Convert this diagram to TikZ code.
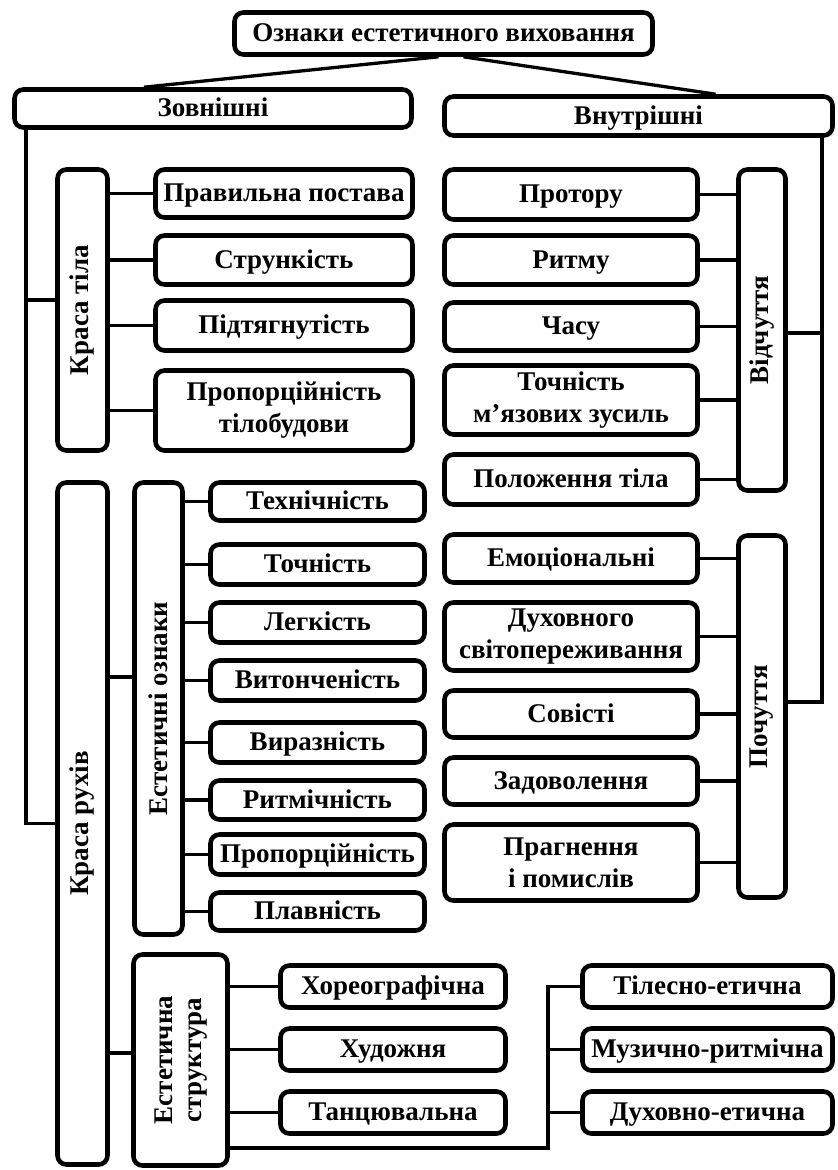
\documentclass[tikz,border=0pt]{standalone}
\usepackage{fontspec}
\setmainfont{Liberation Serif}
\usetikzlibrary{calc}
\begin{document}
\begin{tikzpicture}[x=1pt,y=-1pt,
  bx/.style={draw, line width=4.6pt, rounded corners=9pt, align=center,
    inner sep=0pt, font=\fontsize{27}{32}\selectfont\bfseries},
  one/.style={bx, text height=18pt, text depth=2pt},
  ln/.style={line width=3.3pt}]
\useasboundingbox (0,0) rectangle (838,1170);

% top level
\node[one, minimum width=418pt, minimum height=42pt] (title) at (443.5,33.5) {Ознаки естетичного виховання};
\node[one, minimum width=397pt, minimum height=38pt] (zovn) at (213,108.5) {Зовнішні};
\node[one, minimum width=388pt, minimum height=39pt] (vnut) at (638.5,116) {Внутрішні};

% beauty of the body
\node[bx, minimum width=50pt, minimum height=281pt] (kt) at (82.5,310) {\rotatebox{90}{Краса тіла}};
\node[one, minimum width=257pt, minimum height=48pt] (pp)  at (284,193.5) {Правильна постава};
\node[one, minimum width=257pt, minimum height=49pt] (str) at (284,260) {Стрункість};
\node[one, minimum width=257pt, minimum height=50pt] (pid) at (284,325.5) {Підтягнутість};
\node[bx, minimum width=257pt, minimum height=80pt] (prt) at (284,410.5) {Пропорційність\\тілобудови};

% sensations
\node[bx, minimum width=47pt, minimum height=321pt] (vid) at (762,330) {\rotatebox{90}{Відчуття}};
\node[one, minimum width=253pt, minimum height=50pt] (prot) at (571,194.5) {Протору};
\node[one, minimum width=253pt, minimum height=49pt] (rit)  at (571,260) {Ритму};
\node[one, minimum width=253pt, minimum height=48pt] (chas) at (571,326.5) {Часу};
\node[bx, minimum width=253pt, minimum height=69pt] (toch) at (571,400) {Точність\\м’язових зусиль};
\node[one, minimum width=253pt, minimum height=50pt] (pol)  at (571,479.5) {Положення тіла};

% feelings
\node[bx, minimum width=47pt, minimum height=362pt] (poch) at (762,716.5) {\rotatebox{90}{Почуття}};
\node[one, minimum width=253pt, minimum height=48pt] (emo)  at (571,558.5) {Емоціональні};
\node[bx, minimum width=253pt, minimum height=68pt] (duh)  at (571,636.5) {Духовного\\світопереживання};
\node[one, minimum width=253pt, minimum height=47pt] (sov)  at (571,714) {Совісті};
\node[one, minimum width=253pt, minimum height=47pt] (zad)  at (571,781) {Задоволення};
\node[bx, minimum width=253pt, minimum height=76pt] (prag) at (571,862.5) {Прагнення\\і помислів};

% beauty of movements
\node[bx, minimum width=50pt, minimum height=682pt] (krr) at (82.5,823.5) {\rotatebox{90}{Краса рухів}};
\node[bx, minimum width=48pt, minimum height=452pt] (ee) at (158.5,708.5) {\rotatebox{90}{Естетичні ознаки}};
\node[one, minimum width=214pt, minimum height=38pt] (tech)  at (317.5,501.5) {Технічність};
\node[one, minimum width=214pt, minimum height=40pt] (tochn) at (317.5,564.5) {Точність};
\node[one, minimum width=214pt, minimum height=40pt] (leg)   at (317.5,622.5) {Легкість};
\node[one, minimum width=214pt, minimum height=40pt] (vyt)   at (317.5,680.5) {Витонченість};
\node[one, minimum width=214pt, minimum height=40pt] (vyr)   at (317.5,742.5) {Виразність};
\node[one, minimum width=214pt, minimum height=39pt] (rytm)  at (317.5,800) {Ритмічність};
\node[one, minimum width=214pt, minimum height=40pt] (prop)  at (317.5,854.5) {Пропорційність};
\node[one, minimum width=214pt, minimum height=38pt] (plav)  at (317.5,911.5) {Плавність};

% aesthetic structure
\node[bx, minimum width=94pt, minimum height=211pt] (es) at (180.5,1060)
  {\rotatebox{90}{\begin{tabular}{@{}c@{}}Естетична\\[-3pt]структура\end{tabular}}};
\node[one, minimum width=225pt, minimum height=42pt] (hor) at (393,986.5) {Хореографічна};
\node[one, minimum width=225pt, minimum height=42pt] (hud) at (393,1049.5) {Художня};
\node[one, minimum width=225pt, minimum height=42pt] (tan) at (393,1112.5) {Танцювальна};
\node[one, minimum width=250pt, minimum height=42pt] (til)  at (707.5,986.5) {Тілесно-етична};
\node[one, minimum width=250pt, minimum height=42pt] (muz)  at (707.5,1049.5) {Музично-ритмічна};
\node[one, minimum width=250pt, minimum height=42pt] (duhe) at (707.5,1112.5) {Духовно-етична};

% junction points
\coordinate (jl1) at (26,300);
\coordinate (jl2) at (26,823.5);
\coordinate (jr1) at (822,333);
\coordinate (jr2) at (822,702);
\coordinate (jk1) at (120,677);
\coordinate (jk2) at (120,1053);
\coordinate (br)  at (548,1148);

% connectors
\draw[ln] ($(title.south)+(-5,0)$) -- ($(zovn.north)+(-69,0)$);
\draw[ln] ($(title.south)+(20,0)$) -- ($(vnut.north)+(77,0)$);

\draw[ln] (zovn.south -| jl1) -- (jl2) -- (krr.west);
\draw[ln] (jl1) -- (kt.west |- jl1);
\foreach \n in {pp,str,pid,prt} \draw[ln] (kt.east |- \n.west) -- (\n.west);

\draw[ln] (vnut.south -| jr1) -- (jr2) -- (poch.east |- jr2);
\draw[ln] (jr1) -- (vid.east |- jr1);
\foreach \n in {prot,rit,chas,toch,pol} \draw[ln] (vid.west |- \n.east) -- (\n.east);
\foreach \n in {emo,duh,sov,zad,prag} \draw[ln] (poch.west |- \n.east) -- (\n.east);

\draw[ln] (krr.east |- jk1) -- (ee.west |- jk1);
\draw[ln] (krr.east |- jk2) -- (es.west |- jk2);
\foreach \n in {tech,tochn,leg,vyt,vyr,rytm,prop,plav} \draw[ln] (ee.east |- \n.west) -- (\n.west);
\foreach \n in {hor,hud,tan} \draw[ln] (es.east |- \n.west) -- (\n.west);

\draw[ln] (es.east |- br) -- (br) -- (br |- til.west) -- (til.west);
\draw[ln] (br |- muz.west) -- (muz.west);
\draw[ln] (br |- duhe.west) -- (duhe.west);
\end{tikzpicture}
\end{document}
